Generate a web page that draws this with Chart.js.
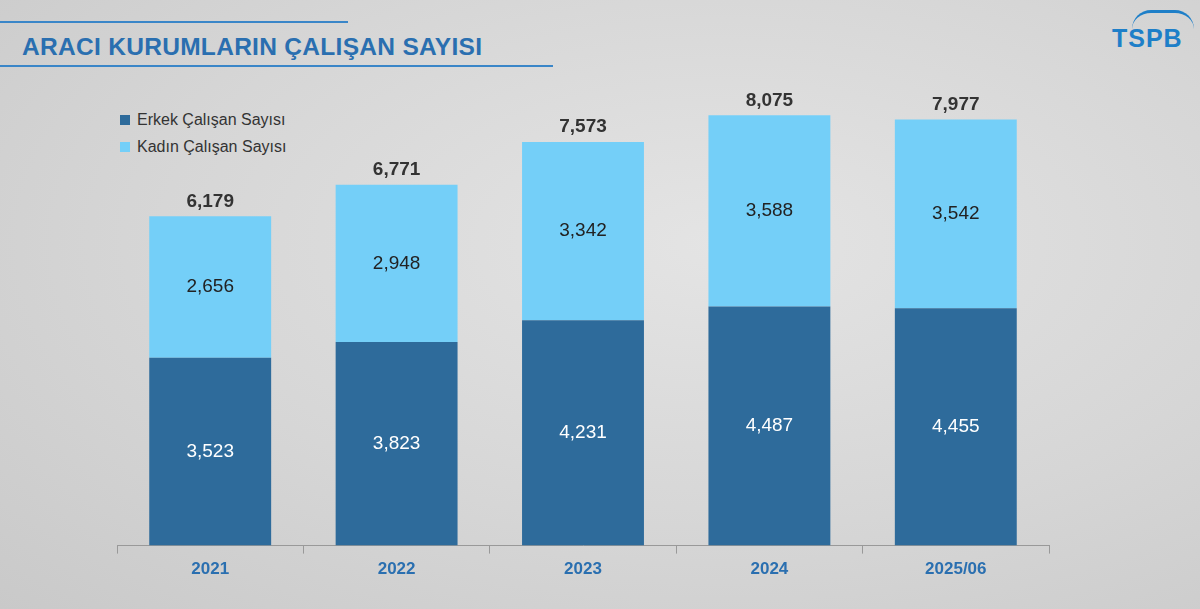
<!DOCTYPE html>
<html><head><meta charset="utf-8">
<script src="https://cdn.jsdelivr.net/npm/chart.js@4"></script>
<style>
html,body{margin:0;padding:0;}
body{width:1200px;height:609px;position:relative;overflow:hidden;font-family:"Liberation Sans",Arial,sans-serif;
 background:radial-gradient(ellipse at 60% 40%,#e4e4e4 0%,#d6d6d6 55%,#c9c9c9 100%);}
.ln{position:absolute;left:0;height:2px;background:#3a86c8;}
#title{position:absolute;left:22px;top:33px;font-size:24.5px;font-weight:bold;color:#2a6fb0;letter-spacing:0.3px;}
#logo{position:absolute;left:1112px;top:24px;font-size:25px;font-weight:bold;color:#1e7fc8;letter-spacing:1px;}
#logo span{position:absolute;left:20px;top:-14px;width:62px;height:16px;border-top:3px solid #1e7fc8;border-radius:60px 60px 0 0;}
.lg{position:absolute;left:120px;font-size:16px;color:#333;}
.lg i{display:inline-block;width:10px;height:10px;margin-right:7px;}
#wrap{position:absolute;left:0;top:0;width:1200px;height:609px;}
</style></head><body>
<div class="ln" style="top:21px;width:348px"></div>
<div class="ln" style="top:65px;width:553px"></div>
<div id="title">ARACI KURUMLARIN ÇALIŞAN SAYISI</div>
<div id="logo"><span></span>TSPB</div>
<div class="lg" style="top:111px"><i style="background:#2e6b9b"></i>Erkek Çalışan Sayısı</div>
<div class="lg" style="top:138px"><i style="background:#74cff8"></i>Kadın Çalışan Sayısı</div>
<div id="wrap"><canvas id="c"></canvas></div>
<script>
var years = ['2021', '2022', '2023', '2024', '2025/06'];
var erkek = [3523, 3823, 4231, 4487, 4455];
var kadin = [2656, 2948, 3342, 3588, 3542];
var totals = [6179, 6771, 7573, 8075, 7977];

var fmt = function (v) { return v.toLocaleString('en-US'); };

var labelPlugin = {
	id: 'labels',
	afterDatasetsDraw: function (chart) {
		var ctx = chart.ctx;
		ctx.save();
		ctx.textAlign = 'center';
		ctx.textBaseline = 'middle';
		chart.data.datasets.forEach(function (ds, i) {
			chart.getDatasetMeta(i).data.forEach(function (bar, j) {
				ctx.font = '19px "Liberation Sans", Arial';
				ctx.fillStyle = i === 0 ? '#ffffff' : '#222222';
				ctx.fillText(fmt(ds.data[j]), bar.x, (bar.y + bar.base) / 2);
			});
		});
		ctx.font = 'bold 19px "Liberation Sans", Arial';
		ctx.fillStyle = '#333333';
		chart.getDatasetMeta(1).data.forEach(function (bar, j) {
			ctx.fillText(fmt(totals[j]), bar.x, bar.y - 15);
		});
		ctx.restore();
	}
};

new Chart(document.getElementById('c'), {
	type: 'bar',
	data: {
		labels: years,
		datasets: [
			{ label: 'Erkek Çalışan Sayısı', data: erkek, backgroundColor: '#2e6b9b' },
			{ label: 'Kadın Çalışan Sayısı', data: kadin, backgroundColor: '#74cff8' }
		]
	},
	options: {
		responsive: true,
		maintainAspectRatio: false,
		animation: false,
		layout: { padding: { left: 117, right: 151, top: 66, bottom: 23 } },
		categoryPercentage: 0.654,
		barPercentage: 1,
		plugins: { legend: { display: false }, tooltip: { enabled: false } },
		scales: {
			x: {
				stacked: true,
				border: { color: '#999', width: 1 },
				grid: { display: true, drawOnChartArea: false, offset: true, color: '#999', tickLength: 8 },
				ticks: { color: '#2a6fb0', font: { size: 17, weight: 'bold', family: '"Liberation Sans", Arial' }, padding: 6 }
			},
			y: { stacked: true, display: false, min: 0, max: 9000 }
		}
	},
	plugins: [labelPlugin]
});
</script>
</body></html>
